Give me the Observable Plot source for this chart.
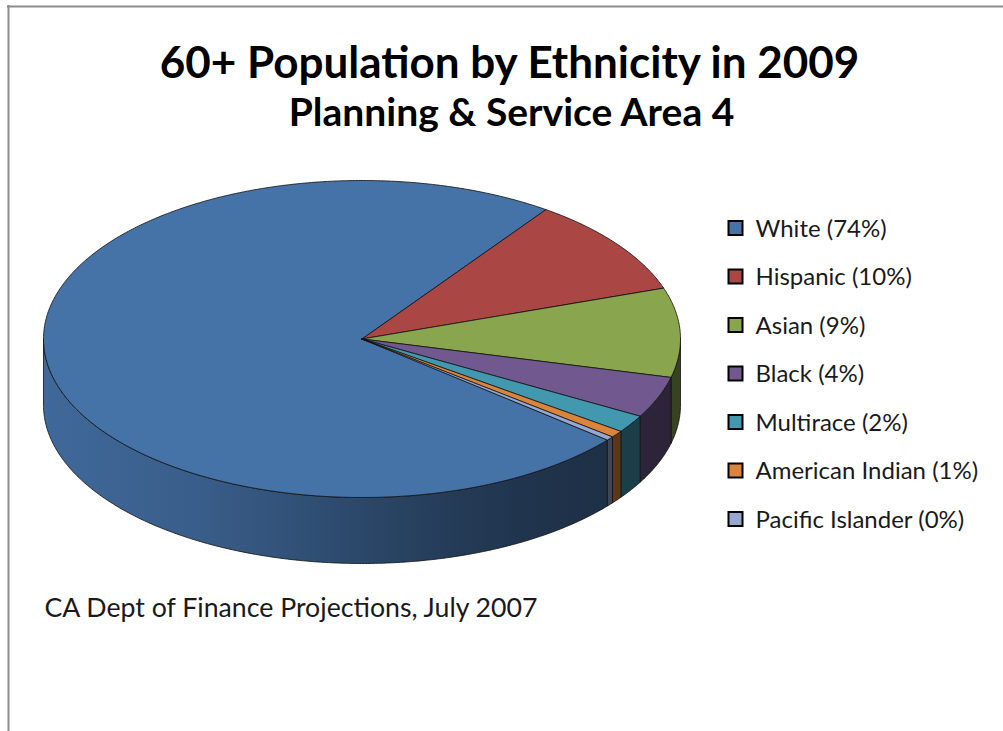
<!DOCTYPE html>
<html>
<head>
<meta charset="utf-8">
<script src="https://cdn.jsdelivr.net/npm/d3@7"></script>
<script src="https://cdn.jsdelivr.net/npm/@observablehq/plot@0.6"></script>
<style>
  html, body { margin: 0; padding: 0; background: #fff; }
  #chart { width: 1003px; height: 731px; }
</style>
</head>
<body>
<div id="chart"></div>
<script>
// ---- Data ----
const categories = ["White", "Hispanic", "Asian", "Black", "Multirace", "American Indian", "Pacific Islander"];
const shares = [73.8, 10.0, 9.1, 4.2, 1.8, 0.7, 0.4];
const colors = ["#4572A7", "#AA4643", "#89A54E", "#71588F", "#4198AF", "#DB843D", "#93A9CF"];
const titleText = "60+ Population by Ethnicity in 2009";
const subtitleText = "Planning & Service Area 4";
const captionText = "CA Dept of Finance Projections, July 2007";

// ---- Layout (pixel space of the 1003x731 canvas) ----
const W = 1003, H = 731;
const cx = 361.5, cy = 338.5, rx = 318.5, ry = 158.5, depth = 66;
const startAngle = 129.6; // degrees clockwise from 12 o'clock
const FONT = "Lato, 'Open Sans', sans-serif";

const total = d3.sum(shares);
const rad = (a) => a * Math.PI / 180;
const pt = (a, dz = 0) => [cx + rx * Math.sin(rad(a)), cy - ry * Math.cos(rad(a)) + dz];

// slices angles
let acc = startAngle;
const slices = categories.map((c, i) => {
  const a0 = acc, a1 = acc + shares[i] / total * 360;
  acc = a1;
  return {cat: c, i, a0, a1, color: colors[i]};
});

function arcPts(a0, a1, dz) {
  const n = Math.max(2, Math.ceil((a1 - a0) / 0.5));
  const out = [];
  for (let k = 0; k <= n; k++) out.push(pt(a0 + (a1 - a0) * k / n, dz));
  return out;
}

// top faces
const topData = slices.map(s => {
  const pts = [[cx, cy], ...arcPts(s.a0, s.a1, 0), [cx, cy]];
  return pts.map(([x, y]) => ({cat: s.cat, x, y}));
});

// visible side faces (front half: angles 90..270 modulo 360)
const sideData = slices.map(s => {
  const parts = [];
  for (const off of [-360, 0, 360]) {
    const lo = Math.max(s.a0, 90 + off), hi = Math.min(s.a1, 270 + off);
    if (hi > lo) {
      const top = arcPts(lo, hi, 0);
      const bot = arcPts(lo, hi, depth).reverse();
      const pts = [...top, ...bot, top[0]];
      parts.push(pts.map(([x, y]) => ({cat: s.cat, x, y})));
    }
  }
  return parts;
});

const legendRows = categories.map((c, i) => ({i, color: colors[i], label: `${c} (${Math.round(shares[i])}%)`}));

const marks = [
  // chart-area border (top and left edges)
  Plot.ruleY([0], {y: () => 6, x1: () => 7, x2: () => W, stroke: "#8c8c8c", strokeWidth: 2}),
  Plot.ruleX([0], {x: () => 8, y1: () => 5, y2: () => H, stroke: "#8c8c8c", strokeWidth: 2}),
];
sideData.forEach((parts, i) => {
  parts.forEach(p => marks.push(Plot.line(p, {x: "x", y: "y", fill: `url(#side-${i})`, stroke: "#111", strokeWidth: 0.9, strokeOpacity: 0.9, strokeLinejoin: "round"})));
});
topData.forEach((p, i) => {
  marks.push(Plot.line(p, {x: "x", y: "y", fill: colors[i], stroke: "#111", strokeWidth: 0.9, strokeOpacity: 0.9, strokeLinejoin: "round"}));
});
marks.push(
  Plot.dot(legendRows, {x: () => 735, y: d => 227.5 + d.i * 48.5, symbol: "square", r: 7.9, fill: "color", stroke: "#000", strokeWidth: 2}),
  Plot.text(legendRows, {x: () => 755, y: d => 236 + d.i * 48.5, text: "label", textAnchor: "start", lineAnchor: "bottom", fontSize: 24, fontFamily: FONT, fill: "#1a1a1a"}),
  Plot.text([titleText], {x: () => 509, y: () => 77, text: d => d, textAnchor: "middle", lineAnchor: "bottom", fontSize: 44, fontWeight: "bold", fontFamily: FONT, fill: "#000"}),
  Plot.text([subtitleText], {x: () => 511, y: () => 125, text: d => d, textAnchor: "middle", lineAnchor: "bottom", fontSize: 39, fontWeight: "bold", fontFamily: FONT, fill: "#000"}),
  Plot.text([captionText], {x: () => 44, y: () => 616, text: d => d, textAnchor: "start", lineAnchor: "bottom", fontSize: 26.7, fontFamily: FONT, fill: "#1a1a1a"})
);

const chart = Plot.plot({
  width: W, height: H, margin: 0,
  x: {domain: [0, W], axis: null},
  y: {domain: [0, H], reverse: true, axis: null},
  style: {background: "#fff", overflow: "visible"},
  marks
});

// side shading gradients (light on the left, dark on the right)
const ns = "http://www.w3.org/2000/svg";
const defs = document.createElementNS(ns, "defs");
const stopsB = [[0, 0.92], [0.25, 0.82], [0.45, 0.67], [0.6, 0.55], [0.75, 0.46], [0.88, 0.42], [1, 0.4]];
colors.forEach((c, i) => {
  const g = document.createElementNS(ns, "linearGradient");
  g.setAttribute("id", `side-${i}`);
  g.setAttribute("gradientUnits", "userSpaceOnUse");
  g.setAttribute("x1", cx - rx); g.setAttribute("x2", cx + rx);
  g.setAttribute("y1", 0); g.setAttribute("y2", 0);
  const base = d3.rgb(c);
  stopsB.forEach(([o, b]) => {
    const s = document.createElementNS(ns, "stop");
    s.setAttribute("offset", o);
    s.setAttribute("stop-color", d3.rgb(base.r * b, base.g * b, base.b * b).formatHex());
    g.appendChild(s);
  });
  defs.appendChild(g);
});
chart.insertBefore(defs, chart.firstChild);
document.getElementById("chart").appendChild(chart);
</script>
</body>
</html>
